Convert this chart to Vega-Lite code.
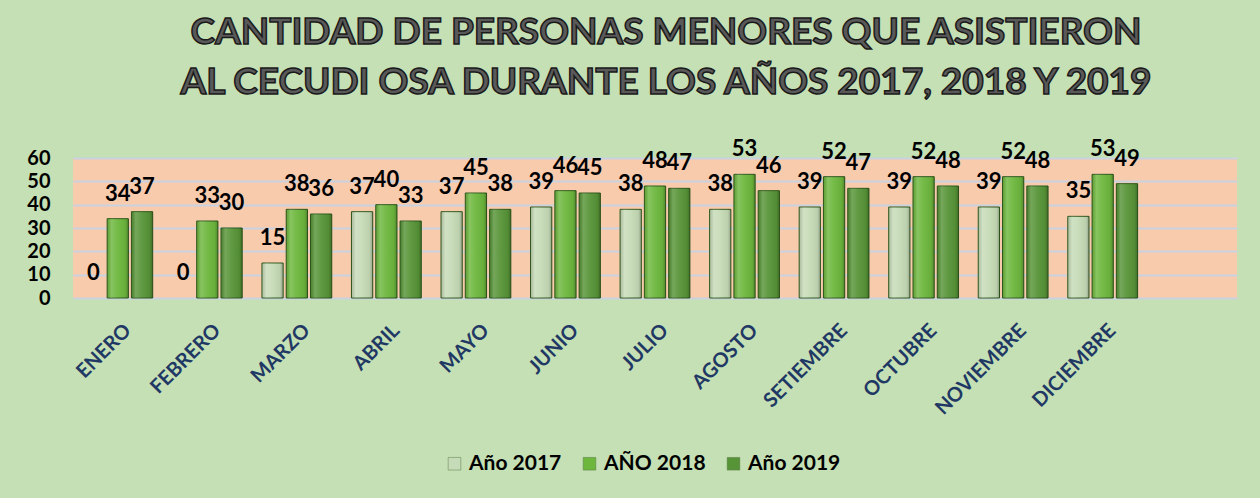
{
  "$schema": "https://vega.github.io/schema/vega-lite/v6.json",
  "width": 1164,
  "height": 140,
  "autosize": {"type": "none"},
  "padding": {"left": 73, "top": 158, "right": 23, "bottom": 200},
  "background": "#c5e0b4",
  "title": {
    "text": ["CANTIDAD DE PERSONAS MENORES QUE ASISTIERON", "AL CECUDI OSA DURANTE LOS AÑOS 2017, 2018 Y 2019"],
    "anchor": "middle",
    "frame": "group",
    "font": "Lato",
    "fontSize": 37,
    "fontWeight": "bold",
    "color": "#595959",
    "lineHeight": 50,
    "offset": 36,
    "dx": 11
  },
  "data": {
    "values": [
      {"mes": "ENERO", "serie": "Año 2017", "valor": 0},
      {"mes": "ENERO", "serie": "AÑO 2018", "valor": 34},
      {"mes": "ENERO", "serie": "Año 2019", "valor": 37},
      {"mes": "FEBRERO", "serie": "Año 2017", "valor": 0},
      {"mes": "FEBRERO", "serie": "AÑO 2018", "valor": 33},
      {"mes": "FEBRERO", "serie": "Año 2019", "valor": 30},
      {"mes": "MARZO", "serie": "Año 2017", "valor": 15},
      {"mes": "MARZO", "serie": "AÑO 2018", "valor": 38},
      {"mes": "MARZO", "serie": "Año 2019", "valor": 36},
      {"mes": "ABRIL", "serie": "Año 2017", "valor": 37},
      {"mes": "ABRIL", "serie": "AÑO 2018", "valor": 40},
      {"mes": "ABRIL", "serie": "Año 2019", "valor": 33},
      {"mes": "MAYO", "serie": "Año 2017", "valor": 37},
      {"mes": "MAYO", "serie": "AÑO 2018", "valor": 45},
      {"mes": "MAYO", "serie": "Año 2019", "valor": 38},
      {"mes": "JUNIO", "serie": "Año 2017", "valor": 39},
      {"mes": "JUNIO", "serie": "AÑO 2018", "valor": 46},
      {"mes": "JUNIO", "serie": "Año 2019", "valor": 45},
      {"mes": "JULIO", "serie": "Año 2017", "valor": 38},
      {"mes": "JULIO", "serie": "AÑO 2018", "valor": 48},
      {"mes": "JULIO", "serie": "Año 2019", "valor": 47},
      {"mes": "AGOSTO", "serie": "Año 2017", "valor": 38},
      {"mes": "AGOSTO", "serie": "AÑO 2018", "valor": 53},
      {"mes": "AGOSTO", "serie": "Año 2019", "valor": 46},
      {"mes": "SETIEMBRE", "serie": "Año 2017", "valor": 39},
      {"mes": "SETIEMBRE", "serie": "AÑO 2018", "valor": 52},
      {"mes": "SETIEMBRE", "serie": "Año 2019", "valor": 47},
      {"mes": "OCTUBRE", "serie": "Año 2017", "valor": 39},
      {"mes": "OCTUBRE", "serie": "AÑO 2018", "valor": 52},
      {"mes": "OCTUBRE", "serie": "Año 2019", "valor": 48},
      {"mes": "NOVIEMBRE", "serie": "Año 2017", "valor": 39},
      {"mes": "NOVIEMBRE", "serie": "AÑO 2018", "valor": 52},
      {"mes": "NOVIEMBRE", "serie": "Año 2019", "valor": 48},
      {"mes": "DICIEMBRE", "serie": "Año 2017", "valor": 35},
      {"mes": "DICIEMBRE", "serie": "AÑO 2018", "valor": 53},
      {"mes": "DICIEMBRE", "serie": "Año 2019", "valor": 49}
    ]
  },
  "encoding": {
    "x": {
      "field": "mes",
      "type": "nominal",
      "scale": {
        "domain": ["ENERO", "FEBRERO", "MARZO", "ABRIL", "MAYO", "JUNIO", "JULIO", "AGOSTO", "SETIEMBRE", "OCTUBRE", "NOVIEMBRE", "DICIEMBRE", "_"],
        "paddingInner": 0.22,
        "paddingOuter": 0.11
      },
      "axis": {
        "title": null,
        "labelAngle": -45,
        "labelAlign": "right",
        "labelBaseline": "top",
        "labelExpr": "datum.value == '_' ? '' : datum.value",
        "labelFont": "Lato",
        "labelFontSize": 20,
        "labelFontWeight": "bold",
        "labelColor": "#1f3864",
        "labelPadding": 22,
        "labelOffset": 3,
        "ticks": false,
        "domain": false,
        "grid": false,
        "labelLimit": 300
      }
    },
    "xOffset": {
      "field": "serie",
      "type": "nominal",
      "sort": ["Año 2017", "AÑO 2018", "Año 2019"],
      "scale": {"paddingInner": 0.125, "paddingOuter": 0}
    },
    "y": {
      "field": "valor",
      "type": "quantitative",
      "scale": {"domain": [0, 60], "nice": false},
      "axis": {
        "title": null,
        "values": [0, 10, 20, 30, 40, 50, 60],
        "labelFont": "Lato",
        "labelFontSize": 20,
        "labelFontWeight": "bold",
        "labelColor": "#000000",
        "labelPadding": 23,
        "ticks": false,
        "domain": false,
        "grid": true,
        "gridColor": "#c9d2df",
        "gridWidth": 2,
        "gridOpacity": 1
      }
    }
  },
  "layer": [
    {
      "mark": {"type": "bar", "stroke": "#2f5a1c"},
      "encoding": {
        "color": {
          "field": "serie",
          "type": "nominal",
          "sort": ["Año 2017", "AÑO 2018", "Año 2019"],
          "scale": {
            "domain": ["Año 2017", "AÑO 2018", "Año 2019"],
            "range": ["#c6dbb7", "#6db73d", "#579437"]
          },
          "legend": {
            "title": null,
            "orient": "none",
            "legendX": 371,
            "legendY": 295,
            "direction": "horizontal",
            "symbolType": "square",
            "symbolSize": 160,
            "symbolStrokeColor": "#5a7a48",
            "symbolStrokeWidth": 0.5,
            "labelFont": "Lato",
            "labelFontSize": 21,
            "labelFontWeight": "bold",
            "labelColor": "#000000",
            "columnPadding": 17,
            "labelOffset": 4
          }
        },
        "strokeWidth": {
          "condition": {"test": "datum.valor == 0", "value": 0},
          "value": 1
        }
      }
    },
    {
      "mark": {
        "type": "bar",
        "color": {
          "x1": 0, "y1": 0, "x2": 1, "y2": 0,
          "gradient": "linear",
          "stops": [
            {"offset": 0, "color": "rgba(0,0,0,0.12)"},
            {"offset": 0.2, "color": "rgba(255,255,255,0.18)"},
            {"offset": 0.5, "color": "rgba(255,255,255,0.05)"},
            {"offset": 0.85, "color": "rgba(0,0,0,0.05)"},
            {"offset": 1, "color": "rgba(0,0,0,0.25)"}
          ]
        }
      }
    },
    {
      "mark": {
        "type": "text",
        "baseline": "middle",
        "dy": -25,
        "font": "Lato",
        "fontSize": 22,
        "fontWeight": "bold",
        "color": "#000000"
      },
      "encoding": {
        "text": {"field": "valor", "type": "quantitative"}
      }
    }
  ],
  "config": {
    "view": {"fill": "#f8cbad", "stroke": null},
    "style": {
      "group-title": {"stroke": "#1a1a1a", "strokeWidth": 1.5}
    }
  }
}
